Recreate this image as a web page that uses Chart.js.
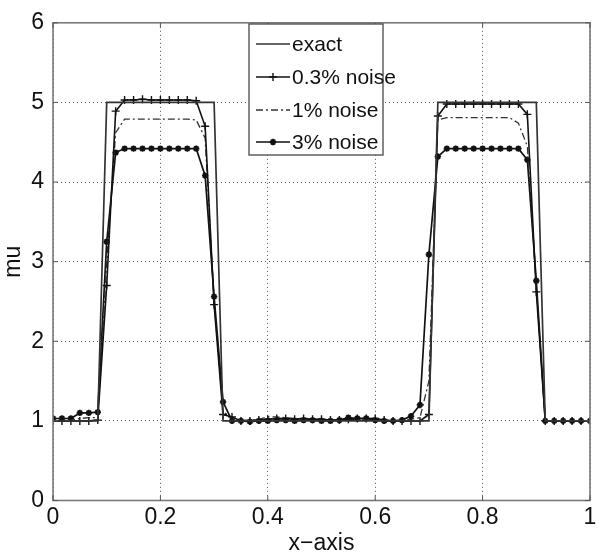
<!DOCTYPE html>
<html>
<head>
<meta charset="utf-8">
<script src="https://cdn.jsdelivr.net/npm/chart.js@4/dist/chart.umd.min.js"></script>
<style>
html,body{margin:0;padding:0;background:#fff;}
#wrap{width:600px;height:557px;}
</style>
</head>
<body>
<div id="wrap"><canvas id="c" width="600" height="557"></canvas></div>
<script>
// Grid of x positions (61 nodes on [0,1])
const xGrid = Array.from({length: 61}, (_, i) => i / 60);

const exact = [
  1,1,1,1,1,1,
  5,5,5,5,5,5,5,5,5,5,5,5,5,
  1,1,1,1,1,1,1,1,1,1,1,1,1,1,1,1,1,1,1,1,1,1,1,1,
  5,5,5,5,5,5,5,5,5,5,5,5,
  1,1,1,1,1,1
];
const noise03 = [
  1.00,1.00,1.00,1.00,1.00,1.01,
  2.70,4.89,
  5.03,5.03,5.04,5.03,5.03,5.03,5.03,5.03,5.02,
  4.70,2.46,1.08,1.05,
  1.00,1.00,1.01,1.02,1.03,1.03,1.02,1.03,1.02,1.02,1.01,1.01,1.02,1.03,1.03,1.03,1.01,1.00,1.00,
  1.00,1.00,1.08,4.83,
  4.98,4.98,4.98,4.98,4.98,4.98,4.98,4.98,4.98,
  4.85,2.62,
  1.00,1.00,1.00,1.00,1.00,1.00
];
const noise1 = [
  1.00,1.00,1.01,1.03,1.04,1.04,
  3.00,4.62,
  4.79,4.79,4.79,4.79,4.79,4.79,4.79,4.79,4.78,
  4.55,2.50,1.12,1.03,
  1.01,1.01,1.02,1.05,1.05,1.04,1.03,1.02,1.02,1.02,1.01,1.01,1.02,1.02,1.02,1.01,1.01,1.00,1.01,
  1.02,1.04,1.50,4.78,
  4.81,4.81,4.81,4.81,4.81,4.81,4.81,4.81,
  4.74,4.45,2.70,
  1.00,1.00,1.00,1.00,1.00,1.00
];
const noise3 = [
  1.03,1.03,1.03,1.10,1.10,1.11,
  3.25,4.37,
  4.42,4.42,4.42,4.42,4.42,4.42,4.42,4.42,4.42,
  4.08,2.56,1.24,1.00,
  1.00,0.99,1.00,1.00,1.01,1.01,1.00,1.01,1.01,1.00,1.00,1.01,1.04,1.03,1.03,1.01,1.00,1.00,1.01,
  1.06,1.20,3.09,4.32,
  4.42,4.42,4.42,4.42,4.42,4.42,4.42,4.42,4.42,
  4.28,2.76,
  1.00,1.00,1.00,1.00,1.00,1.00
];

const seriesNames = ['exact', '0.3% noise', '1% noise', '3% noise'];
const xTickValues = [0, 0.2, 0.4, 0.6, 0.8, 1];
const xTickLabels = ['0', '0.2', '0.4', '0.6', '0.8', '1'];
const yTickValues = [0, 1, 2, 3, 4, 5, 6];
const yTickLabels = ['0', '1', '2', '3', '4', '5', '6'];
const xTitle = 'x\u2212axis';
const yTitle = 'mu';

const FONT = '"Liberation Sans", Arial, Helvetica, sans-serif';
const toXY = arr => arr.map((v, i) => ({x: xGrid[i], y: v}));

const datasets = [
  {label: seriesNames[0], data: toXY(exact), borderColor: '#333', borderWidth: 1.7, pointRadius: 0},
  {label: seriesNames[1], data: toXY(noise03), borderColor: '#111', borderWidth: 1.6,
   pointStyle: 'cross', pointRadius: 4, pointBorderWidth: 1.4, pointBorderColor: '#111', pointBackgroundColor: '#111'},
  {label: seriesNames[2], data: toXY(noise1), borderColor: '#333', borderWidth: 1.3, borderDash: [7, 3, 2, 3], pointRadius: 0},
  {label: seriesNames[3], data: toXY(noise3), borderColor: '#111', borderWidth: 1.7,
   pointStyle: 'star', pointRadius: 3.2, pointBorderWidth: 1.8, pointBorderColor: '#111', pointBackgroundColor: '#111'}
];

const frame = {
  id: 'frame',
  afterDatasetsDraw(chart) {
    const {ctx, chartArea: a, scales} = chart;
    ctx.save();
    ctx.strokeStyle = '#7a7a7a';
    ctx.lineWidth = 1.6;
    ctx.strokeRect(a.left, a.top, a.right - a.left, a.bottom - a.top);
    ctx.lineWidth = 1;
    ctx.strokeStyle = '#555';
    const L = 5;
    xTickValues.forEach(v => {
      const px = scales.x.getPixelForValue(v);
      ctx.beginPath();
      ctx.moveTo(px, a.bottom); ctx.lineTo(px, a.bottom - L);
      ctx.moveTo(px, a.top); ctx.lineTo(px, a.top + L);
      ctx.stroke();
    });
    yTickValues.forEach(v => {
      const py = scales.y.getPixelForValue(v);
      ctx.beginPath();
      ctx.moveTo(a.left, py); ctx.lineTo(a.left + L, py);
      ctx.moveTo(a.right, py); ctx.lineTo(a.right - L, py);
      ctx.stroke();
    });
    ctx.restore();
  },
  afterDraw(chart) {
    // legend box inside plot area
    const {ctx} = chart;
    const bx = 249, by = 24, bw = 134, bh = 131;
    ctx.save();
    ctx.fillStyle = '#fff';
    ctx.fillRect(bx, by, bw, bh);
    ctx.strokeStyle = '#555';
    ctx.lineWidth = 1.4;
    ctx.strokeRect(bx, by, bw, bh);
    ctx.font = '21px ' + FONT;
    ctx.textBaseline = 'middle';
    ctx.fillStyle = '#111';
    const rows = [44, 77, 110, 142];
    chart.data.datasets.forEach((ds, i) => {
      const y = rows[i];
      const x0 = 256, x1 = 290;
      ctx.save();
      ctx.strokeStyle = ds.borderColor;
      ctx.lineWidth = ds.borderWidth;
      ctx.setLineDash(ds.borderDash || []);
      ctx.beginPath(); ctx.moveTo(x0, y); ctx.lineTo(x1, y); ctx.stroke();
      ctx.restore();
      if (ds.pointRadius > 0) {
        ctx.save();
        ctx.strokeStyle = ds.pointBorderColor; ctx.fillStyle = ds.pointBackgroundColor;
        ctx.lineWidth = ds.pointBorderWidth;
        Chart.helpers.drawPoint(ctx, {pointStyle: ds.pointStyle, radius: ds.pointRadius, borderWidth: ds.pointBorderWidth, rotation: 0}, (x0 + x1) / 2, y);
        ctx.restore();
      }
      ctx.fillStyle = '#111';
      ctx.fillText(ds.label, 292, y + 1);
    });
    ctx.restore();
  }
};

new Chart(document.getElementById('c'), {
  type: 'line',
  data: {datasets},
  options: {
    responsive: false,
    animation: false,
    devicePixelRatio: 1,
    layout: {padding: {top: 13, right: 10, left: 0, bottom: 0}},
    plugins: {legend: {display: false}, tooltip: {enabled: false}},
    elements: {line: {tension: 0, fill: false}},
    scales: {
      x: {
        type: 'linear', min: 0, max: 1,
        afterBuildTicks: s => { s.ticks = xTickValues.map(v => ({value: v})); },
        afterFit: s => { s.height = 56.5; },
        ticks: {
          callback: (v) => xTickLabels[xTickValues.indexOf(v)] ?? '',
          font: {family: FONT, size: 23}, color: '#111', padding: 3, maxRotation: 0, autoSkip: false
        },
        grid: {color: '#555', lineWidth: 1, drawTicks: false},
        border: {display: false, dash: [1, 3]},
        title: {display: true, text: xTitle, font: {family: FONT, size: 23}, color: '#111', padding: {top: 0, bottom: 0}}
      },
      y: {
        type: 'linear', min: 0, max: 6,
        afterBuildTicks: s => { s.ticks = yTickValues.map(v => ({value: v})); },
        afterFit: s => { s.width = 53; },
        ticks: {
          callback: (v) => yTickLabels[yTickValues.indexOf(v)] ?? '',
          font: {family: FONT, size: 23}, color: '#111', padding: 9
        },
        grid: {color: '#555', lineWidth: 1, drawTicks: false},
        border: {display: false, dash: [1, 3]},
        title: {display: true, text: yTitle, font: {family: FONT, size: 23}, color: '#111', padding: {top: 0, bottom: 0}}
      }
    }
  },
  plugins: [frame]
});
</script>
</body>
</html>
